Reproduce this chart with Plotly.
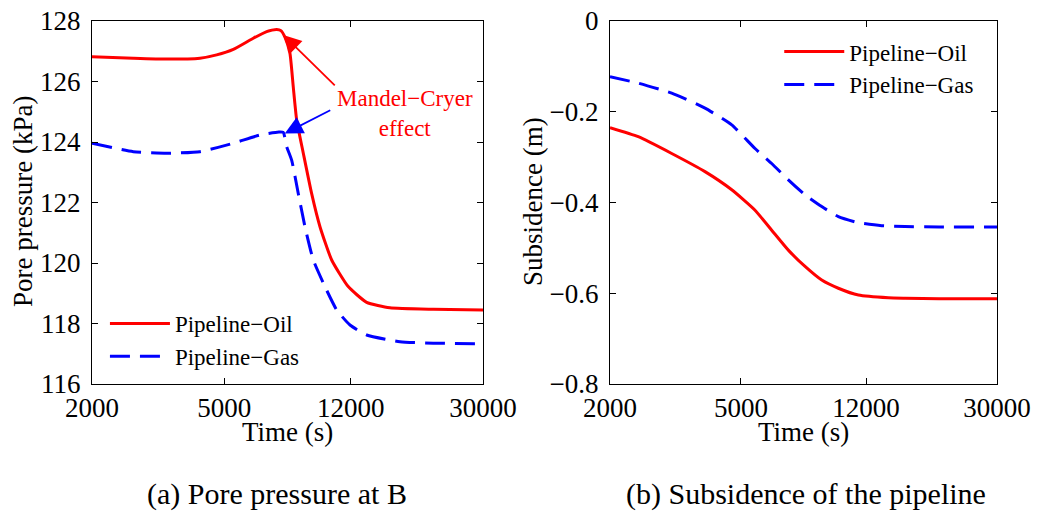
import numpy as np
import plotly.graph_objects as go

# ---------------- data: (a) pore pressure at B ----------------
t_oil_a = [2000, 2662, 3360, 4224, 4742, 5322, 6112, 6706, 7188, 7400, 7620, 7878, 8060, 8254,
           8642, 9154, 9700, 10518, 11796, 13400, 15740, 21260, 30000]
pp_oil = [126.82, 126.77, 126.74, 126.77, 126.88, 127.06, 127.43, 127.65, 127.72, 127.68, 127.45,
          126.93, 125.83, 124.73, 123.63, 122.30, 121.20, 120.10, 119.22, 118.70, 118.52, 118.47, 118.45]

t_gas_a = [2000, 2662, 3360, 4224, 5322, 6400, 7300, 7522, 7704, 7972, 8346, 8742, 9260,
           10160, 10888, 11940, 13400, 16880, 21260, 30000]
pp_gas = [123.96, 123.68, 123.63, 123.68, 123.96, 124.23, 124.33, 124.32, 123.84, 123.40, 122.30,
          121.20, 120.10, 119.10, 118.45, 117.95, 117.62, 117.40, 117.35, 117.33]

# ---------------- data: (b) subsidence of the pipeline ----------------
t_oil_b = [2000, 2438, 3080, 3888, 4688, 5518, 6200, 6966, 7830, 8800, 9886, 11370, 14028,
           15766, 20000, 30000]
sub_oil = [-0.235, -0.255, -0.292, -0.332, -0.372, -0.417, -0.461, -0.505, -0.541, -0.571,
           -0.589, -0.604, -0.610, -0.611, -0.612, -0.612]

t_gas_b = [2000, 2438, 3080, 3888, 4688, 5518, 6200, 6966, 7830, 8800, 9886, 11370, 13392,
           15766, 20000, 30000]
sub_gas = [-0.123, -0.137, -0.159, -0.192, -0.229, -0.281, -0.314, -0.350, -0.383, -0.409,
           -0.431, -0.4445, -0.451, -0.453, -0.454, -0.454]

x_ticks = [2000, 5000, 12000, 30000]
x_ticktext = ["2000", "5000", "12000", "30000"]
y_ticks_a = [116, 118, 120, 122, 124, 126, 128]
y_ticks_b = [-0.8, -0.6, -0.4, -0.2, 0]
y_ticktext_b = ["\u22120.8", "\u22120.6", "\u22120.4", "\u22120.2", "0"]
series_names = ["Pipeline\u2212Oil", "Pipeline\u2212Gas"]
captions = ["(a) Pore pressure at B", "(b) Subsidence of the pipeline"]
x_title = "Time (s)"
y_titles = ["Pore pressure (kPa)", "Subsidence (m)"]

RED = "#ff0000"
BLUE = "#0000ff"
FONT = "Liberation Serif, Times New Roman, serif"
W, H = 1039, 511

fig = go.Figure()
line_shape = dict(shape="spline", smoothing=0.5)
fig.add_trace(go.Scatter(x=t_oil_a, y=pp_oil, mode="lines", name=series_names[0],
                         line=dict(color=RED, width=3, **line_shape),
                         xaxis="x", yaxis="y", legend="legend"))
fig.add_trace(go.Scatter(x=t_gas_a, y=pp_gas, mode="lines", name=series_names[1],
                         line=dict(color=BLUE, width=3, dash="20px,10px", **line_shape),
                         xaxis="x", yaxis="y", legend="legend"))
fig.add_trace(go.Scatter(x=t_oil_b, y=sub_oil, mode="lines", name=series_names[0],
                         line=dict(color=RED, width=3, **line_shape),
                         xaxis="x2", yaxis="y2", legend="legend2"))
fig.add_trace(go.Scatter(x=t_gas_b, y=sub_gas, mode="lines", name=series_names[1],
                         line=dict(color=BLUE, width=3, dash="20px,10px", **line_shape),
                         xaxis="x2", yaxis="y2", legend="legend2"))

axis_common = dict(showline=True, linecolor="black", linewidth=1, mirror="ticks",
                   ticks="inside", ticklen=6, tickcolor="black", showgrid=False,
                   zeroline=False, automargin=False,
                   tickfont=dict(family=FONT, size=27, color="black"))

xaxis_common = dict(axis_common, type="log",
                    range=[np.log10(2000), np.log10(30000)],
                    tickvals=x_ticks, ticktext=x_ticktext, ticklabelstandoff=0)

XD1 = [92 / W, 483 / W]
XD2 = [610 / W, 997 / W]
YD = [1 - 384 / H, 1 - 21 / H]

fig.update_layout(
    width=W, height=H,
    margin=dict(l=0, r=0, t=0, b=0, autoexpand=False),
    paper_bgcolor="white", plot_bgcolor="white",
    showlegend=True,
    xaxis=dict(xaxis_common, domain=XD1, anchor="y"),
    yaxis=dict(axis_common, domain=YD, anchor="x", range=[116, 128],
               tickvals=y_ticks_a, ticklabelstandoff=5),
    xaxis2=dict(xaxis_common, domain=XD2, anchor="y2"),
    yaxis2=dict(axis_common, domain=YD, anchor="x2", range=[-0.8, 0],
                tickvals=y_ticks_b, ticktext=y_ticktext_b, ticklabelstandoff=5),
    legend=dict(x=0.101, y=0.409, xanchor="left", yanchor="top", bgcolor="rgba(0,0,0,0)",
                font=dict(family=FONT, size=23, color="black"), itemwidth=60),
    legend2=dict(x=0.75, y=0.941, xanchor="left", yanchor="top", bgcolor="rgba(0,0,0,0)",
                 font=dict(family=FONT, size=23, color="black"), itemwidth=60),
)

title_font = dict(family=FONT, size=27, color="black")
# axis titles
for xc in [(XD1[0] + XD1[1]) / 2, (XD2[0] + XD2[1]) / 2]:
    fig.add_annotation(xref="paper", yref="paper", x=xc, y=1 - 432 / H, text=x_title,
                       showarrow=False, xanchor="center", yanchor="middle", font=title_font)
for xp, txt in zip([23 / W, 533 / W], y_titles):
    fig.add_annotation(xref="paper", yref="paper", x=xp, y=1 - 202 / H, text=txt,
                       textangle=-90, showarrow=False, xanchor="center", yanchor="middle",
                       font=title_font)

# Mandel-Cryer effect annotation
fig.add_annotation(xref="paper", yref="paper", x=405 / W, y=1 - 113.5 / H, xanchor="center",
                   yanchor="middle", text="Mandel\u2212Cryer<br>effect", showarrow=False,
                   font=dict(family=FONT, size=23, color=RED))
fig.add_annotation(xref="x", yref="y", x=np.log10(7522), y=127.54, text="", showarrow=True,
                   ax=53, ay=52, arrowhead=2, arrowsize=2, arrowwidth=1.8, arrowcolor=RED)
fig.add_annotation(xref="x", yref="y", x=np.log10(7600), y=124.28, text="", showarrow=True,
                   ax=47, ay=-24, arrowhead=2, arrowsize=2, arrowwidth=1.8, arrowcolor=BLUE)

# captions
for xc, txt in zip([276.5 / W, 806 / W], captions):
    fig.add_annotation(xref="paper", yref="paper", x=xc, y=1 - 494 / H, text=txt,
                       showarrow=False, xanchor="center", yanchor="middle",
                       font=dict(family=FONT, size=30, color="black"))

fig.write_html("out.html")
